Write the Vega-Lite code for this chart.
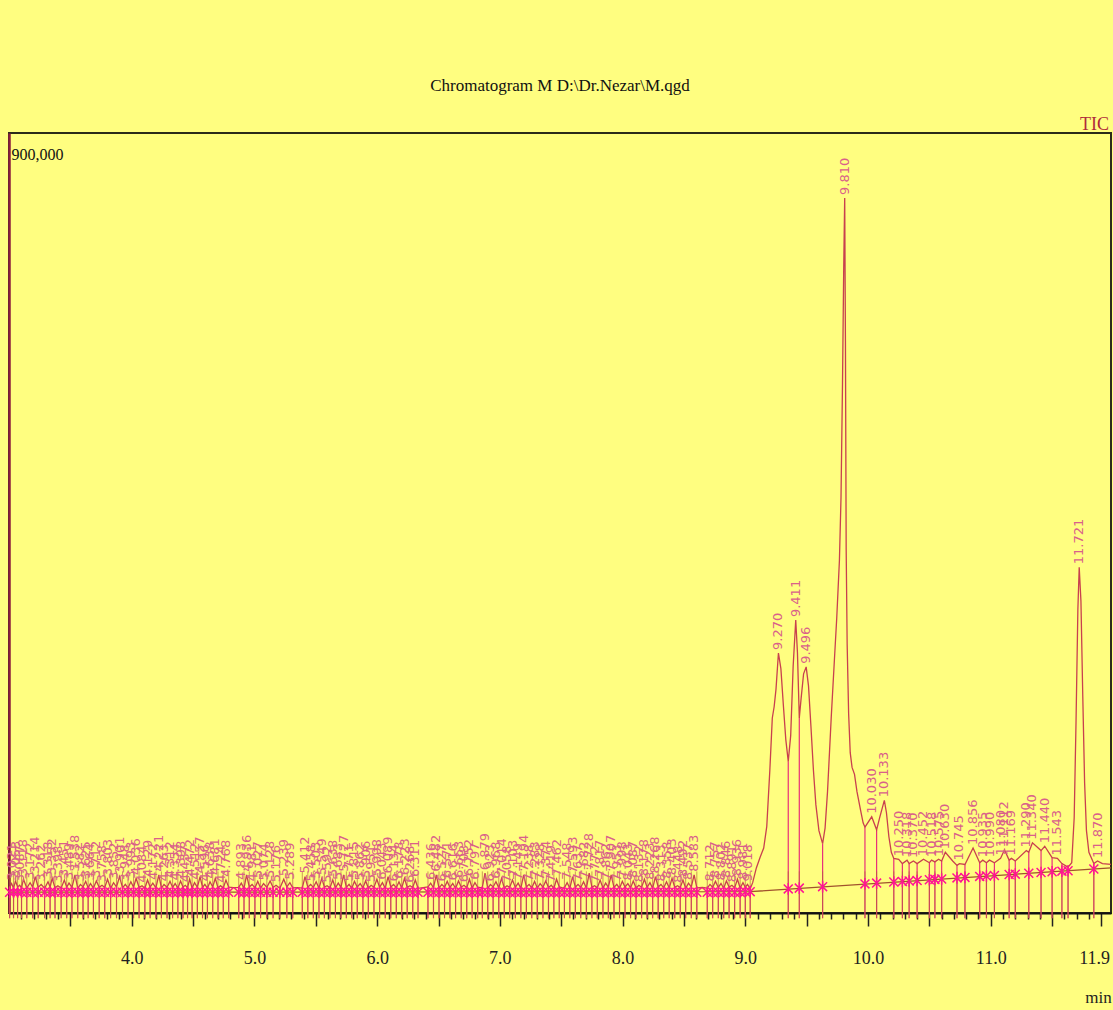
{
"$schema":"https://vega.github.io/schema/vega-lite/v6.json",
"autosize":"none",
"width":1102,"height":780,
"padding":{"left":9,"top":133,"right":2,"bottom":97},
"background":"#fffe80",
"config":{"view":{"stroke":"#2b2b1a","strokeWidth":2}},
"title":{"text":"Chromatogram M D:\\Dr.Nezar\\M.qgd","font":"Liberation Serif","fontSize":17,"fontWeight":"normal","color":"#111111","anchor":"middle","baseline":"alphabetic","offset":25,"dy":18},
"datasets":{
"base":[{"t":3.0,"v":24000},{"t":9.04,"v":24600},{"t":11.98,"v":52000}],
"sig":[
{"t":3.0,"v":29000,"k":"s"},
{"t":3.005,"v":29500,"k":"b","bl":24000},{"t":3.021,"v":34000,"k":"p"},{"t":3.037,"v":28500,"k":"b","bl":24000},{"t":3.053,"v":37000,"k":"p"},{"t":3.070,"v":30000,"k":"b","bl":24000},{"t":3.087,"v":32000,"k":"p"},{"t":3.102,"v":29000,"k":"b","bl":24000},{"t":3.118,"v":39000,"k":"p"},{"t":3.145,"v":28800,"k":"b","bl":24000},{"t":3.172,"v":35000,"k":"p"},{"t":3.193,"v":29700,"k":"b","bl":24000},{"t":3.214,"v":42000,"k":"p"},{"t":3.238,"v":29500,"k":"b","bl":24000},{"t":3.262,"v":33000,"k":"p"},{"t":3.290,"v":28500,"k":"b","bl":24000},{"t":3.318,"v":36000,"k":"p"},{"t":3.335,"v":30000,"k":"b","bl":24000},{"t":3.352,"v":40000,"k":"p"},{"t":3.375,"v":29000,"k":"b","bl":24000},{"t":3.398,"v":31500,"k":"p"},{"t":3.425,"v":28800,"k":"b","bl":24000},{"t":3.451,"v":38000,"k":"p"},{"t":3.470,"v":29700,"k":"b","bl":24000},{"t":3.489,"v":34500,"k":"p"},{"t":3.513,"v":29500,"k":"b","bl":24000},{"t":3.538,"v":44000,"k":"p"},{"t":3.560,"v":28500,"k":"b","bl":24000},{"t":3.582,"v":33000,"k":"p"},{"t":3.603,"v":30000,"k":"b","bl":24000},{"t":3.625,"v":36500,"k":"p"},{"t":3.645,"v":29000,"k":"b","bl":24000},{"t":3.664,"v":34000,"k":"p"},{"t":3.688,"v":28800,"k":"b","bl":24000},{"t":3.712,"v":37000,"k":"p"},{"t":3.735,"v":29700,"k":"b","bl":24000},{"t":3.758,"v":32000,"k":"p"},{"t":3.780,"v":29500,"k":"b","bl":24000},{"t":3.803,"v":39000,"k":"p"},{"t":3.828,"v":28500,"k":"b","bl":24000},{"t":3.852,"v":35000,"k":"p"},{"t":3.876,"v":30000,"k":"b","bl":24000},{"t":3.901,"v":42000,"k":"p"},{"t":3.925,"v":29000,"k":"b","bl":24000},{"t":3.948,"v":33000,"k":"p"},{"t":3.970,"v":28800,"k":"b","bl":24000},{"t":3.993,"v":36000,"k":"p"},{"t":4.015,"v":29700,"k":"b","bl":24000},{"t":4.036,"v":40000,"k":"p"},{"t":4.060,"v":29500,"k":"b","bl":24000},{"t":4.084,"v":31500,"k":"p"},{"t":4.107,"v":28500,"k":"b","bl":24000},{"t":4.129,"v":38000,"k":"p"},{"t":4.150,"v":30000,"k":"b","bl":24000},{"t":4.172,"v":34500,"k":"p"},{"t":4.197,"v":29000,"k":"b","bl":24000},{"t":4.221,"v":44000,"k":"p"},{"t":4.242,"v":28800,"k":"b","bl":24000},{"t":4.263,"v":33000,"k":"p"},{"t":4.288,"v":29700,"k":"b","bl":24000},{"t":4.312,"v":36500,"k":"p"},{"t":4.333,"v":29500,"k":"b","bl":24000},{"t":4.354,"v":34000,"k":"p"},{"t":4.376,"v":28500,"k":"b","bl":24000},{"t":4.398,"v":37000,"k":"p"},{"t":4.418,"v":30000,"k":"b","bl":24000},{"t":4.437,"v":32000,"k":"p"},{"t":4.455,"v":29000,"k":"b","bl":24000},{"t":4.472,"v":39000,"k":"p"},{"t":4.492,"v":28800,"k":"b","bl":24000},{"t":4.512,"v":35000,"k":"p"},{"t":4.535,"v":29700,"k":"b","bl":24000},{"t":4.557,"v":42000,"k":"p"},{"t":4.577,"v":29500,"k":"b","bl":24000},{"t":4.596,"v":33000,"k":"p"},{"t":4.617,"v":28500,"k":"b","bl":24000},{"t":4.638,"v":36000,"k":"p"},{"t":4.660,"v":30000,"k":"b","bl":24000},{"t":4.681,"v":40000,"k":"p"},{"t":4.703,"v":29000,"k":"b","bl":24000},{"t":4.724,"v":31500,"k":"p"},{"t":4.746,"v":28800,"k":"b","bl":24000},{"t":4.768,"v":38000,"k":"p"},{"t":4.790,"v":29700,"k":"b","bl":24000},
{"t":4.830,"v":29200,"k":"s"},
{"t":4.872,"v":29500,"k":"b","bl":24000},{"t":4.893,"v":34500,"k":"p"},{"t":4.915,"v":28500,"k":"b","bl":24000},{"t":4.936,"v":44000,"k":"p"},{"t":4.958,"v":30000,"k":"b","bl":24000},{"t":4.981,"v":33000,"k":"p"},{"t":5.004,"v":29000,"k":"b","bl":24000},{"t":5.027,"v":36500,"k":"p"},{"t":5.050,"v":28800,"k":"b","bl":24000},{"t":5.074,"v":34000,"k":"p"},{"t":5.101,"v":29700,"k":"b","bl":24000},{"t":5.128,"v":37000,"k":"p"},{"t":5.152,"v":29500,"k":"b","bl":24000},{"t":5.176,"v":32000,"k":"p"},{"t":5.207,"v":28500,"k":"b","bl":24000},{"t":5.239,"v":39000,"k":"p"},{"t":5.264,"v":30000,"k":"b","bl":24000},{"t":5.289,"v":35000,"k":"p"},{"t":5.312,"v":29000,"k":"b","bl":24000},
{"t":5.350,"v":29300,"k":"s"},
{"t":5.390,"v":28800,"k":"b","bl":24000},{"t":5.412,"v":42000,"k":"p"},{"t":5.435,"v":29700,"k":"b","bl":24000},{"t":5.458,"v":33000,"k":"p"},{"t":5.480,"v":29500,"k":"b","bl":24000},{"t":5.503,"v":36000,"k":"p"},{"t":5.526,"v":28500,"k":"b","bl":24000},{"t":5.549,"v":40000,"k":"p"},{"t":5.570,"v":30000,"k":"b","bl":24000},{"t":5.592,"v":31500,"k":"p"},{"t":5.615,"v":29000,"k":"b","bl":24000},{"t":5.638,"v":38000,"k":"p"},{"t":5.660,"v":28800,"k":"b","bl":24000},{"t":5.683,"v":34500,"k":"p"},{"t":5.705,"v":29700,"k":"b","bl":24000},{"t":5.727,"v":44000,"k":"p"},{"t":5.749,"v":29500,"k":"b","bl":24000},{"t":5.771,"v":33000,"k":"p"},{"t":5.793,"v":28500,"k":"b","bl":24000},{"t":5.815,"v":36500,"k":"p"},{"t":5.838,"v":30000,"k":"b","bl":24000},{"t":5.862,"v":34000,"k":"p"},{"t":5.884,"v":29000,"k":"b","bl":24000},{"t":5.906,"v":37000,"k":"p"},{"t":5.928,"v":28800,"k":"b","bl":24000},{"t":5.951,"v":32000,"k":"p"},{"t":5.974,"v":29700,"k":"b","bl":24000},{"t":5.998,"v":39000,"k":"p"},{"t":6.020,"v":29500,"k":"b","bl":24000},{"t":6.043,"v":35000,"k":"p"},{"t":6.066,"v":28500,"k":"b","bl":24000},{"t":6.089,"v":42000,"k":"p"},{"t":6.111,"v":30000,"k":"b","bl":24000},{"t":6.134,"v":33000,"k":"p"},{"t":6.156,"v":29000,"k":"b","bl":24000},{"t":6.178,"v":36000,"k":"p"},{"t":6.200,"v":28800,"k":"b","bl":24000},{"t":6.223,"v":40000,"k":"p"},{"t":6.245,"v":29700,"k":"b","bl":24000},{"t":6.268,"v":31500,"k":"p"},{"t":6.290,"v":29500,"k":"b","bl":24000},{"t":6.311,"v":38000,"k":"p"},{"t":6.333,"v":28500,"k":"b","bl":24000},
{"t":6.375,"v":29400,"k":"s"},
{"t":6.414,"v":30000,"k":"b","bl":24000},{"t":6.436,"v":34500,"k":"p"},{"t":6.459,"v":29000,"k":"b","bl":24000},{"t":6.482,"v":44000,"k":"p"},{"t":6.504,"v":28800,"k":"b","bl":24000},{"t":6.527,"v":33000,"k":"p"},{"t":6.549,"v":29700,"k":"b","bl":24000},{"t":6.571,"v":36500,"k":"p"},{"t":6.593,"v":29500,"k":"b","bl":24000},{"t":6.616,"v":34000,"k":"p"},{"t":6.639,"v":28500,"k":"b","bl":24000},{"t":6.663,"v":37000,"k":"p"},{"t":6.685,"v":30000,"k":"b","bl":24000},{"t":6.708,"v":32000,"k":"p"},{"t":6.730,"v":29000,"k":"b","bl":24000},{"t":6.752,"v":39000,"k":"p"},{"t":6.774,"v":28800,"k":"b","bl":24000},{"t":6.797,"v":35000,"k":"p"},{"t":6.819,"v":29700,"k":"b","bl":24000},
{"t":6.840,"v":29300,"k":"s"},
{"t":6.857,"v":29500,"k":"b","bl":24000},{"t":6.879,"v":46000,"k":"p"},{"t":6.901,"v":28500,"k":"b","bl":24000},{"t":6.923,"v":33000,"k":"p"},{"t":6.945,"v":30000,"k":"b","bl":24000},{"t":6.968,"v":36000,"k":"p"},{"t":6.991,"v":29000,"k":"b","bl":24000},{"t":7.014,"v":40000,"k":"p"},{"t":7.036,"v":28800,"k":"b","bl":24000},{"t":7.058,"v":31500,"k":"p"},{"t":7.080,"v":29700,"k":"b","bl":24000},{"t":7.103,"v":38000,"k":"p"},{"t":7.126,"v":29500,"k":"b","bl":24000},{"t":7.149,"v":34500,"k":"p"},{"t":7.171,"v":28500,"k":"b","bl":24000},{"t":7.194,"v":44000,"k":"p"},{"t":7.216,"v":30000,"k":"b","bl":24000},{"t":7.238,"v":33000,"k":"p"},{"t":7.260,"v":29000,"k":"b","bl":24000},{"t":7.283,"v":36500,"k":"p"},{"t":7.305,"v":28800,"k":"b","bl":24000},{"t":7.328,"v":34000,"k":"p"},{"t":7.351,"v":29700,"k":"b","bl":24000},{"t":7.374,"v":37000,"k":"p"},{"t":7.396,"v":29500,"k":"b","bl":24000},{"t":7.419,"v":32000,"k":"p"},{"t":7.440,"v":28500,"k":"b","bl":24000},{"t":7.462,"v":39000,"k":"p"},{"t":7.484,"v":30000,"k":"b","bl":24000},
{"t":7.505,"v":29400,"k":"s"},
{"t":7.526,"v":29000,"k":"b","bl":24000},{"t":7.548,"v":35000,"k":"p"},{"t":7.570,"v":28800,"k":"b","bl":24000},{"t":7.593,"v":42000,"k":"p"},{"t":7.615,"v":29700,"k":"b","bl":24000},{"t":7.637,"v":33000,"k":"p"},{"t":7.659,"v":29500,"k":"b","bl":24000},{"t":7.682,"v":36000,"k":"p"},{"t":7.705,"v":28500,"k":"b","bl":24000},{"t":7.728,"v":46000,"k":"p"},{"t":7.750,"v":30000,"k":"b","bl":24000},{"t":7.772,"v":31500,"k":"p"},{"t":7.794,"v":29000,"k":"b","bl":24000},{"t":7.817,"v":38000,"k":"p"},{"t":7.840,"v":28800,"k":"b","bl":24000},{"t":7.862,"v":34500,"k":"p"},{"t":7.884,"v":29700,"k":"b","bl":24000},{"t":7.907,"v":44000,"k":"p"},{"t":7.930,"v":29500,"k":"b","bl":24000},{"t":7.953,"v":33000,"k":"p"},{"t":7.975,"v":28500,"k":"b","bl":24000},{"t":7.998,"v":36500,"k":"p"},{"t":8.020,"v":30000,"k":"b","bl":24000},{"t":8.043,"v":34000,"k":"p"},{"t":8.065,"v":29000,"k":"b","bl":24000},{"t":8.087,"v":37000,"k":"p"},{"t":8.110,"v":28800,"k":"b","bl":24000},{"t":8.132,"v":32000,"k":"p"},{"t":8.155,"v":29700,"k":"b","bl":24000},{"t":8.178,"v":39000,"k":"p"},{"t":8.200,"v":29500,"k":"b","bl":24000},{"t":8.223,"v":35000,"k":"p"},{"t":8.245,"v":28500,"k":"b","bl":24000},{"t":8.268,"v":42000,"k":"p"},{"t":8.290,"v":30000,"k":"b","bl":24000},{"t":8.313,"v":33000,"k":"p"},{"t":8.335,"v":29000,"k":"b","bl":24000},{"t":8.358,"v":36000,"k":"p"},{"t":8.380,"v":28800,"k":"b","bl":24000},{"t":8.403,"v":40000,"k":"p"},{"t":8.425,"v":29700,"k":"b","bl":24000},{"t":8.448,"v":31500,"k":"p"},{"t":8.470,"v":29500,"k":"b","bl":24000},{"t":8.492,"v":38000,"k":"p"},{"t":8.514,"v":28500,"k":"b","bl":24000},{"t":8.537,"v":34500,"k":"p"},{"t":8.560,"v":30000,"k":"b","bl":24000},{"t":8.583,"v":44000,"k":"p"},{"t":8.605,"v":29000,"k":"b","bl":24000},
{"t":8.650,"v":29400,"k":"s"},
{"t":8.690,"v":28800,"k":"b","bl":24000},{"t":8.712,"v":33000,"k":"p"},{"t":8.734,"v":29700,"k":"b","bl":24000},{"t":8.757,"v":36500,"k":"p"},{"t":8.780,"v":29500,"k":"b","bl":24000},{"t":8.802,"v":34000,"k":"p"},{"t":8.824,"v":28500,"k":"b","bl":24000},{"t":8.846,"v":37000,"k":"p"},{"t":8.868,"v":30000,"k":"b","bl":24000},{"t":8.891,"v":32000,"k":"p"},{"t":8.913,"v":29000,"k":"b","bl":24000},{"t":8.936,"v":39000,"k":"p"},{"t":8.958,"v":28800,"k":"b","bl":24000},{"t":8.981,"v":35000,"k":"p"},{"t":9.000,"v":29700,"k":"b","bl":24500},{"t":9.018,"v":33000,"k":"p"},{"t":9.040,"v":28000,"k":"b","bl":24600},
{"t":9.060,"v":35000,"k":"s"},{"t":9.090,"v":52000,"k":"s"},{"t":9.120,"v":64000,"k":"s"},{"t":9.150,"v":75000,"k":"s"},{"t":9.175,"v":100000,"k":"s"},{"t":9.200,"v":165000,"k":"s"},{"t":9.220,"v":225000,"k":"s"},{"t":9.235,"v":238000,"k":"s"},{"t":9.250,"v":258000,"k":"s"},{"t":9.270,"v":300000,"k":"p"},{"t":9.290,"v":282000,"k":"s"},{"t":9.310,"v":240000,"k":"s"},{"t":9.330,"v":200000,"k":"s"},{"t":9.350,"v":175000,"k":"b","bl":27800},{"t":9.370,"v":205000,"k":"s"},{"t":9.390,"v":285000,"k":"s"},{"t":9.411,"v":338000,"k":"p"},{"t":9.425,"v":300000,"k":"s"},{"t":9.440,"v":225000,"k":"b","bl":28700},{"t":9.455,"v":248000,"k":"s"},{"t":9.475,"v":276000,"k":"s"},{"t":9.496,"v":284000,"k":"p"},{"t":9.515,"v":262000,"k":"s"},{"t":9.535,"v":215000,"k":"s"},{"t":9.555,"v":165000,"k":"s"},{"t":9.575,"v":125000,"k":"s"},{"t":9.600,"v":95000,"k":"s"},{"t":9.630,"v":80000,"k":"b","bl":30400},{"t":9.650,"v":98000,"k":"s"},{"t":9.670,"v":140000,"k":"s"},{"t":9.700,"v":225000,"k":"s"},{"t":9.726,"v":292000,"k":"s"},{"t":9.745,"v":340000,"k":"s"},{"t":9.767,"v":407000,"k":"s"},{"t":9.780,"v":480000,"k":"s"},{"t":9.792,"v":610000,"k":"s"},{"t":9.802,"v":745000,"k":"s"},{"t":9.810,"v":825000,"k":"p"},{"t":9.816,"v":660000,"k":"s"},{"t":9.822,"v":420000,"k":"s"},{"t":9.830,"v":310000,"k":"s"},{"t":9.842,"v":230000,"k":"s"},{"t":9.855,"v":185000,"k":"s"},{"t":9.870,"v":168000,"k":"s"},{"t":9.890,"v":160000,"k":"s"},{"t":9.910,"v":140000,"k":"s"},{"t":9.940,"v":118000,"k":"s"},{"t":9.960,"v":104000,"k":"s"},{"t":9.975,"v":99000,"k":"b","bl":33600},{"t":10.030,"v":111000,"k":"p"},{"t":10.070,"v":96000,"k":"b","bl":34500},{"t":10.095,"v":110000,"k":"s"},{"t":10.133,"v":130000,"k":"p"},{"t":10.150,"v":116000,"k":"s"},{"t":10.170,"v":88000,"k":"s"},{"t":10.190,"v":70000,"k":"s"},{"t":10.210,"v":63000,"k":"b","bl":35700},{"t":10.250,"v":62000,"k":"p"},{"t":10.280,"v":57000,"k":"b","bl":36400},{"t":10.318,"v":61000,"k":"p"},{"t":10.335,"v":57000,"k":"b","bl":36900},{"t":10.370,"v":60000,"k":"p"},{"t":10.400,"v":57000,"k":"b","bl":37500},{"t":10.452,"v":62000,"k":"p"},{"t":10.500,"v":58000,"k":"b","bl":38400},{"t":10.518,"v":61000,"k":"p"},{"t":10.545,"v":59000,"k":"b","bl":38800},{"t":10.575,"v":62000,"k":"p"},{"t":10.600,"v":60000,"k":"b","bl":39300},{"t":10.630,"v":70000,"k":"p"},{"t":10.690,"v":60000,"k":"s"},{"t":10.725,"v":55000,"k":"b","bl":40500},{"t":10.745,"v":57000,"k":"p"},{"t":10.790,"v":56000,"k":"b","bl":41100},{"t":10.856,"v":75000,"k":"p"},{"t":10.910,"v":58000,"k":"b","bl":42200},{"t":10.935,"v":61000,"k":"p"},{"t":10.965,"v":58000,"k":"b","bl":42700},{"t":10.990,"v":61000,"k":"p"},{"t":11.030,"v":58000,"k":"b","bl":43300},{"t":11.080,"v":63000,"k":"p"},{"t":11.112,"v":73000,"k":"p"},{"t":11.150,"v":61000,"k":"b","bl":44400},{"t":11.169,"v":63000,"k":"p"},{"t":11.200,"v":60000,"k":"b","bl":44800},{"t":11.290,"v":72000,"k":"p"},{"t":11.310,"v":70000,"k":"b","bl":45800},{"t":11.340,"v":81000,"k":"p"},{"t":11.410,"v":72000,"k":"b","bl":46800},{"t":11.440,"v":77000,"k":"p"},{"t":11.500,"v":64000,"k":"b","bl":47600},{"t":11.543,"v":63000,"k":"p"},{"t":11.580,"v":57000,"k":"b","bl":48300},{"t":11.630,"v":53000,"k":"b","bl":48800},{"t":11.660,"v":58000,"k":"s"},{"t":11.680,"v":110000,"k":"s"},{"t":11.695,"v":220000,"k":"s"},{"t":11.710,"v":350000,"k":"s"},{"t":11.721,"v":399000,"k":"p"},{"t":11.735,"v":360000,"k":"s"},{"t":11.750,"v":250000,"k":"s"},{"t":11.765,"v":150000,"k":"s"},{"t":11.780,"v":95000,"k":"s"},{"t":11.800,"v":70000,"k":"s"},{"t":11.840,"v":57000,"k":"b","bl":50700},{"t":11.870,"v":60000,"k":"p"},{"t":11.910,"v":57000,"k":"s"},{"t":11.980,"v":56000,"k":"s"}
]},
"encoding":{
"x":{"field":"t","type":"quantitative","scale":{"domain":[3.0,11.98],"nice":false,"zero":false},
"axis":{"values":[3.1,3.2,3.3,3.4,3.5,3.6,3.7,3.8,3.9,4.0,4.1,4.2,4.3,4.4,4.5,4.6,4.7,4.8,4.9,5.0,5.1,5.2,5.3,5.4,5.5,5.6,5.7,5.8,5.9,6.0,6.1,6.2,6.3,6.4,6.5,6.6,6.7,6.8,6.9,7.0,7.1,7.2,7.3,7.4,7.5,7.6,7.7,7.8,7.9,8.0,8.1,8.2,8.3,8.4,8.5,8.6,8.7,8.8,8.9,9.0,9.1,9.2,9.3,9.4,9.5,9.6,9.7,9.8,9.9,10.0,10.1,10.2,10.3,10.4,10.5,10.6,10.7,10.8,10.9,11.0,11.1,11.2,11.3,11.4,11.5,11.6,11.7,11.8,11.9],
"labelExpr":"abs(datum.value - round(datum.value)) < 0.01 || abs(datum.value - 11.9) < 0.01 ? format(datum.value, '.1f') : ''",
"tickSize":{"condition":{"test":"abs(datum.value*2 - round(datum.value*2)) < 0.01 || abs(datum.value - 11.9) < 0.01","value":13},"value":6},
"labelOffset":{"condition":{"test":"datum.value > 11.85","value":-7},"value":0},
"labelOverlap":false,"labelFlush":false,"grid":false,
"domainColor":"#111111","domainWidth":2,"tickColor":"#222222","tickWidth":1.5,
"labelFont":"Liberation Serif","labelFontSize":18,"labelColor":"#222222","labelPadding":23,
"title":"min","titleFont":"Liberation Serif","titleFontSize":17,"titleFontWeight":"normal","titleColor":"#222222","titleX":1089,"titleY":89,"titleAlign":"center","titleBaseline":"alphabetic"}},
"y":{"type":"quantitative","scale":{"domain":[0,900000],"nice":false,"zero":false},
"axis":{"values":[900000],"labelExpr":"format(datum.value, ',.0f')","ticks":false,"tickSize":0,"grid":false,"labelAlign":"left","labelBaseline":"top","labelPadding":-2,"labelOffset":13,
"labelFont":"Liberation Serif","labelFontSize":16,"labelColor":"#111111","domainColor":"#8b1c3c","domainWidth":2.5,
"title":"TIC","titleAngle":0,"titleX":1085,"titleY":-4,"titleAlign":"center","titleBaseline":"alphabetic","titleFont":"Liberation Serif","titleFontSize":18,"titleFontWeight":"normal","titleColor":"#b02a3a"}}
},
"layer":[
{"data":{"name":"base"},"mark":{"type":"line","color":"#a0522d","strokeWidth":1.3},"encoding":{"y":{"field":"v"}}},
{"data":{"name":"sig"},"transform":[{"filter":"datum.k == 'b'"}],"mark":{"type":"rule","color":"#e8307a","strokeWidth":1.2},"encoding":{"y":{"field":"v"},"y2":{"datum":-6000}}},
{"data":{"name":"sig"},"transform":[{"filter":"datum.k == 'b'"}],"mark":{"type":"rule","color":"#b0603c","strokeWidth":0.8,"opacity":0.8},"encoding":{"y":{"datum":48000},"y2":{"datum":-6000}}},
{"data":{"name":"sig"},"mark":{"type":"line","color":"#c8404e","strokeWidth":1.3},"encoding":{"y":{"field":"v"}}},
{"data":{"name":"sig"},"transform":[{"filter":"datum.k == 'b'"}],"mark":{"type":"point","shape":"M-1,-1L1,1M-1,1L1,-1M0,-1.3L0,1.3","filled":false,"color":"#ff1493","strokeWidth":1.5,"size":80,"opacity":1},"encoding":{"y":{"field":"bl"}}},
{"data":{"name":"sig"},"transform":[{"filter":"datum.k == 'p'"}],"mark":{"type":"text","angle":270,"align":"left","baseline":"middle","dx":3,"font":"DejaVu Sans","fontSize":13,"color":"#d9608a"},"encoding":{"y":{"field":"v"},"text":{"field":"t","type":"quantitative","format":".3f"}}}
]
}
